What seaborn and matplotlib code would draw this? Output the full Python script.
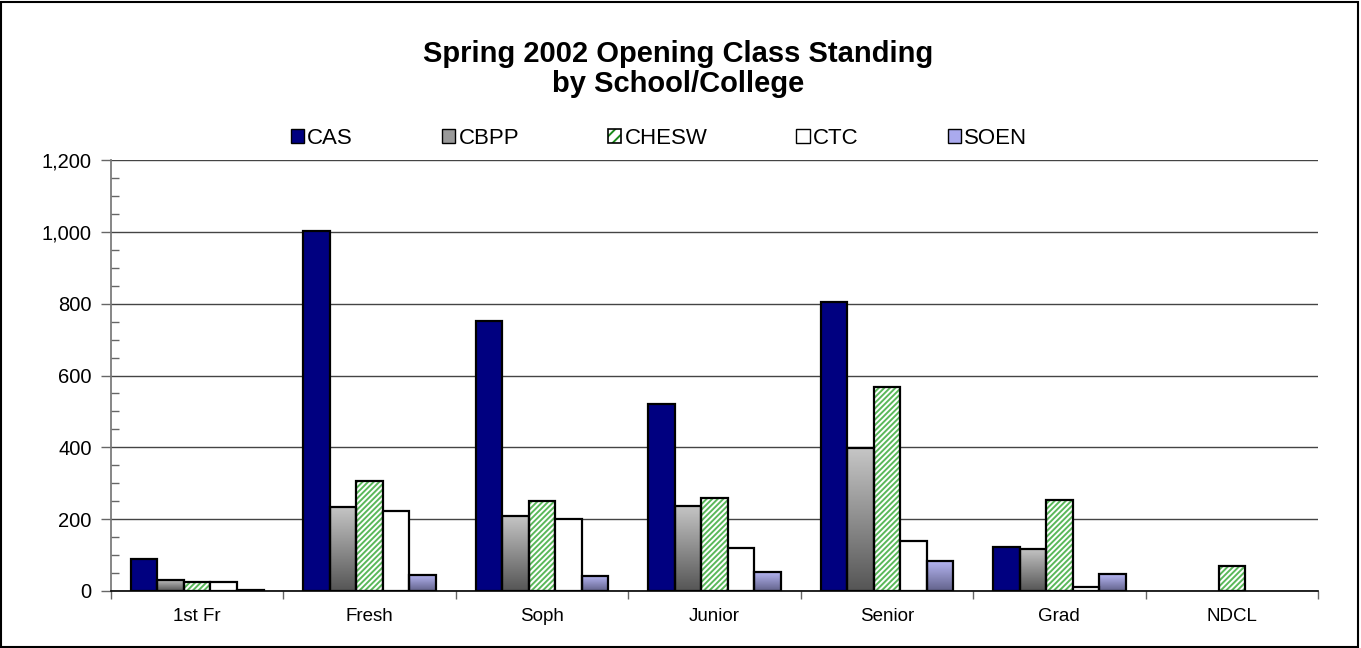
import numpy as np
import pandas as pd
import matplotlib
matplotlib.use("Agg")
import matplotlib.pyplot as plt
import seaborn as sns
from matplotlib.patches import Rectangle, Patch
from matplotlib.ticker import MultipleLocator, FuncFormatter

categories = ["1st Fr", "Fresh", "Soph", "Junior", "Senior", "Grad", "NDCL"]
schools = ["CAS", "CBPP", "CHESW", "CTC", "SOEN"]
cas = [89, 1003, 752, 521, 805, 123, 0]
cbpp = [31, 234, 209, 237, 398, 117, 0]
chesw = [24, 306, 251, 259, 568, 254, 70]
ctc = [25, 223, 200, 120, 139, 11, 0]
soen = [2, 45, 42, 53, 84, 46, 0]

title = "Spring 2002 Opening Class Standing\nby School/College"

df = pd.DataFrame({
    "cat": categories * 5,
    "school": sum([[s] * len(categories) for s in schools], []),
    "val": cas + cbpp + chesw + ctc + soen,
})

sns.set_theme(style="white")
plt.rcParams['font.family'] = ['Liberation Sans', 'DejaVu Sans']
plt.rcParams['hatch.linewidth'] = 1.4
for k in ["text.color", "axes.labelcolor", "xtick.color", "ytick.color"]:
    plt.rcParams[k] = "black"

fig = plt.figure(figsize=(13.61, 6.48), dpi=100)
ax = fig.add_axes([111/1361, (648-591)/648, (1318-111)/1361, (591-160)/648])

palette = {"CAS": "#000080", "CBPP": "#999999", "CHESW": "white", "CTC": "white", "SOEN": "#aaaaee"}
sns.barplot(data=df, x="cat", y="val", hue="school", order=categories, hue_order=schools,
            palette=palette, width=0.77, gap=0, ax=ax, legend=False, saturation=1)

cmap_grey = matplotlib.colors.LinearSegmentedColormap.from_list("g", ["#c6c6c6", "#555555"])
cmap_soen = matplotlib.colors.LinearSegmentedColormap.from_list("s", ["#b8b8f6", "#62628a"])
grad = np.linspace(0, 1, 256).reshape(-1, 1)
hatch_green = "#5ab85a"

n = len(categories)
for i, patch in enumerate(ax.patches[:5 * n]):
    s = schools[i // n]
    x, y = patch.get_x(), patch.get_y()
    w, h = patch.get_width(), patch.get_height()
    patch.set_edgecolor("black")
    patch.set_linewidth(1.6)
    if h <= 0:
        patch.set_visible(False)
        continue
    if s in ("CBPP", "SOEN"):
        cm = cmap_grey if s == "CBPP" else cmap_soen
        im = ax.imshow(grad, cmap=cm, extent=(x, x + w, y, y + h), origin="upper",
                       aspect="auto", zorder=patch.get_zorder() - 0.1, interpolation="bilinear")
        im.set_clip_path(patch)
        patch.set_facecolor("none")
    if s == "CHESW":
        hp = Rectangle((x, y), w, h, facecolor="white", edgecolor=hatch_green, hatch="//////",
                       linewidth=0, zorder=patch.get_zorder() - 0.1)
        ax.add_patch(hp)
        patch.set_facecolor("none")

ax.set_xlim(-0.5, len(categories) - 0.5)
ax.set_ylim(0, 1200)

ax.yaxis.set_major_locator(MultipleLocator(200))
ax.yaxis.set_minor_locator(MultipleLocator(50))
ax.yaxis.set_major_formatter(FuncFormatter(lambda v, p: f"{int(v):,}"))
ax.grid(axis="y", which="major", color="#444444", linewidth=1.0)
ax.set_axisbelow(True)
ax.tick_params(axis="y", which="major", direction="out", length=7, width=1, color="#666666",
               labelsize=14.5, left=True, pad=7)
ax.tick_params(axis="y", which="minor", direction="in", length=6, width=1, color="#666666", left=True)
ax.set_xticks(np.arange(-0.5, len(categories) + 0.5, 1), minor=False)
ax.set_xticklabels([])
ax.set_xticks(np.arange(len(categories)), minor=True)
ax.set_xticklabels(categories, minor=True)
ax.tick_params(axis="x", which="major", direction="out", length=6, width=1, color="#666666", bottom=True)
ax.tick_params(axis="x", which="minor", length=0, labelsize=13.5, pad=12)
ax.set_xlabel("")
ax.set_ylabel("")
for sp in ["top", "right"]:
    ax.spines[sp].set_visible(False)
ax.spines["left"].set_color("#777777")
ax.spines["bottom"].set_color("black")
ax.spines["bottom"].set_linewidth(1.2)

handles = [
    Patch(facecolor="#000080", edgecolor="black", label="CAS"),
    Patch(facecolor="#999999", edgecolor="black", label="CBPP"),
    (Patch(facecolor="white", edgecolor="#1a8a1a", hatch="///", linewidth=0),
     Patch(facecolor="none", edgecolor="black", linewidth=1.2)),
    Patch(facecolor="white", edgecolor="black", label="CTC"),
    Patch(facecolor="#aaaaee", edgecolor="black", label="SOEN"),
]
labels = schools
fig.legend(handles=handles, labels=labels, loc="center", bbox_to_anchor=(659/1361, 1 - 138/648), ncol=5,
           frameon=False, fontsize=16, handlelength=0.6, handleheight=0.6,
           handletextpad=0.15, columnspacing=4.0)

fig.text(678/1361, 1 - 69/648, title, ha="center", va="center", fontsize=21,
         fontweight="bold", linespacing=1.05)

fig.patches.append(Rectangle((0.001, 0.002), 0.997, 0.995, transform=fig.transFigure,
                             fill=False, edgecolor="black", linewidth=1.5))

fig.savefig("out.png", dpi=100)
